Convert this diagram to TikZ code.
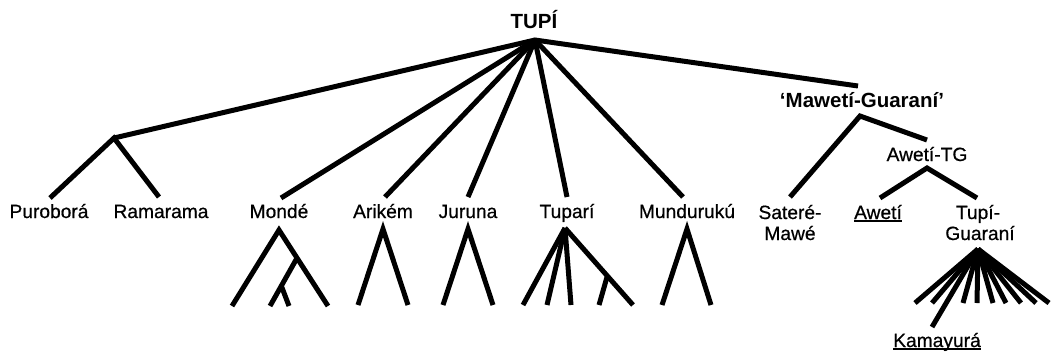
\documentclass[tikz,border=0pt]{standalone}
\usepackage{fontspec}
\setmainfont{Liberation Sans}
\newfontfamily\labfont[FakeBold=0.6]{Liberation Sans}
\newcommand\myul[1]{\setbox0\hbox{#1}\rlap{\rule[-2.6pt]{\wd0}{1.8pt}}\box0}
\tikzset{
  br/.style={line width=5pt, line cap=butt, line join=miter},
  lab/.style={inner sep=0pt, anchor=base, font=\labfont\fontsize{19.2}{21}\selectfont, align=center},
  blab/.style={inner sep=0pt, anchor=base, font=\fontsize{20.5}{22}\selectfont\bfseries},
}
\begin{document}
\begin{tikzpicture}[x=1pt, y=-1pt]
\useasboundingbox (0,0) rectangle (1051,360);
% labels
\node[blab] (tupi) at (534,28) {TUPÍ};
\node[lab] (puro) at (49,218) {Puroborá};
\node[lab] (rama) at (161,218) {Ramarama};
\node[lab] (monde) at (279,218) {Mondé};
\node[lab] (arikem) at (383,218) {Arikém};
\node[lab] (juruna) at (468,218) {Juruna};
\node[lab] (tupari) at (567,218) {Tuparí};
\node[lab] (mundu) at (687,218) {Mundurukú};
\node[blab] (mg) at (862,107) {‘Mawetí-Guaraní’};
\node[lab] (atg) at (927,161) {Awetí-TG};
\node[lab] (satere) at (790,219) {Sateré-};
\node[lab] (mawe) at (790,240) {Mawé};
\node[lab] (aweti) at (878,219) {\myul{Awetí}};
\node[lab] (tupih) at (978,219) {Tupí-};
\node[lab] (guarani) at (980,240) {Guaraní};
\node[lab] (kama) at (937,347) {\myul{Kamayurá}};
% coordinates
\coordinate (root) at (535,40);
\coordinate (pr) at (114,138);
\coordinate (puroE) at (50,198);
\coordinate (ramaE) at (159,197);
\coordinate (mondeE) at (281,198);
\coordinate (arikemE) at (385,197);
\coordinate (jurunaE) at (468,197);
\coordinate (tupariE) at (567,197);
\coordinate (munduE) at (683,197);
\coordinate (mgE) at (858,86);
% Monde subtree
\coordinate (mT) at (279,230);
\coordinate (mL) at (232,306);
\coordinate (mR) at (328,306);
\coordinate (mI) at (297,258);
\coordinate (mIL) at (270,306);
\coordinate (mS) at (281,285);
\coordinate (mSR) at (289,306);
% Arikem
\coordinate (aT) at (383,229);
\coordinate (aL) at (358,305);
\coordinate (aR) at (408,305);
% Juruna
\coordinate (jT) at (468,229);
\coordinate (jL) at (443,305);
\coordinate (jR) at (493,305);
% Tupari
\coordinate (tT) at (565,228);
\coordinate (t1) at (523,305);
\coordinate (t2) at (547,305);
\coordinate (t3) at (571,305);
\coordinate (tI) at (607,277);
\coordinate (t4) at (599,305);
\coordinate (t5) at (633,305);
% Munduruku
\coordinate (uT) at (687,229);
\coordinate (uL) at (662,305);
\coordinate (uR) at (711,305);
% Maweti-Guarani
\coordinate (mgN) at (860,116);
\coordinate (satE) at (790,197);
\coordinate (atgE) at (927,140);
\coordinate (atgN) at (927,168);
\coordinate (awE) at (880,198);
\coordinate (tgE) at (977,198);
\coordinate (fA) at (978,249);
\coordinate (kE) at (932,327);
% edges
\draw[br] (pr) -- (root) -- (mgE);
\draw[br] (puroE) -- (pr) -- (ramaE);
\foreach \e in {mondeE,arikemE,jurunaE,tupariE,munduE} \draw[br] (root) -- (\e);
\draw[br] (mL) -- (mT) -- (mR);
\draw[br] (mI) -- (mIL);
\draw[br] (mS) -- (mSR);
\draw[br] (aL) -- (aT) -- (aR);
\draw[br] (jL) -- (jT) -- (jR);
\foreach \e in {t1,t2,t3,t5} \draw[br] (tT) -- (\e);
\draw[br] (tI) -- (t4);
\draw[br] (uL) -- (uT) -- (uR);
\draw[br] (satE) -- (mgN) -- (atgE);
\draw[br] (awE) -- (atgN) -- (tgE);
\foreach \x [count=\i] in {915,932,963,977,993,1006,1021,1036,1049} {
  \coordinate (f\i) at (\x,303);
  \draw[br] (fA) -- (f\i);
}
\draw[br] (fA) -- (kE);
\end{tikzpicture}
\end{document}
